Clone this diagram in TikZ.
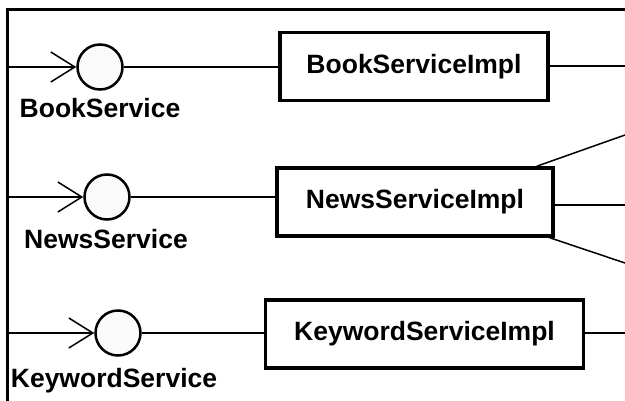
\documentclass[tikz,border=0pt]{standalone}
\usepackage{fontspec}
\setmainfont{Liberation Sans}
\usetikzlibrary{arrows.meta}
\begin{document}
\begin{tikzpicture}[x=1pt,y=-1pt,
  iface/.style={circle,draw,line width=2.5pt,fill=gray!4,minimum size=45pt,inner sep=0pt},
  impl/.style={draw,line width=3.5pt,minimum height=68pt,inner sep=0pt,
    font=\fontsize{26.5}{30}\selectfont\bfseries},
  lbl/.style={anchor=base,inner sep=0pt,font=\fontsize{26.5}{30}\selectfont\bfseries},
  wire/.style={line width=1.5pt},
  provided/.style={wire,-{Straight Barb[length=24pt,width=30pt,line width=1.5pt]}},
  frame/.style={line width=3pt}]
\useasboundingbox (0,0) rectangle (625,401);

% frame edges
\draw[frame] (7,401) -- (7,10) -- (625,10);

% provided interfaces
\node[iface] (c1) at (100,67) {};
\node[iface] (c2) at (107,197) {};
\node[iface] (c3) at (118,333) {};

\node[lbl] (l1) at (100,118) {BookService};
\node[lbl] (l2) at (106,249) {NewsService};
\node[lbl] (l3) at (114,388) {KeywordService};

% implementations
\node[impl,minimum width=268pt] (b1) at (414,66.5) {BookServiceImpl};
\node[impl,minimum width=276pt] (b2) at (415,202) {NewsServiceImpl};
\node[impl,minimum width=318pt] (b3) at (424.5,334) {KeywordServiceImpl};

% free ends of the wires
\coordinate (in1) at (7,67);
\coordinate (in2) at (7,197);
\coordinate (in3) at (7,333);
\coordinate (o1) at (625,66);
\coordinate (o2a) at (625,135);
\coordinate (o2b) at (625,205);
\coordinate (o2c) at (625,263);
\coordinate (o3) at (625,333);

% incoming requests
\draw[provided] (in1) -- (c1.west);
\draw[provided] (in2) -- (c2.west);
\draw[provided] (in3) -- (c3.west);

% interface to implementation
\draw[wire] (c1.east) -- (c1.east -| b1.west);
\draw[wire] (c2.east) -- (c2.east -| b2.west);
\draw[wire] (c3.east) -- (c3.east -| b3.west);

% outgoing dependencies
\draw[wire] (b1.east |- o1) -- (o1);
\draw[wire] ([xshift=-18pt]b2.north east) -- (o2a);
\draw[wire] (b2.east |- o2b) -- (o2b);
\draw[wire] ([xshift=-5pt]b2.south east) -- (o2c);
\draw[wire] (b3.east |- o3) -- (o3);
\end{tikzpicture}
\end{document}
